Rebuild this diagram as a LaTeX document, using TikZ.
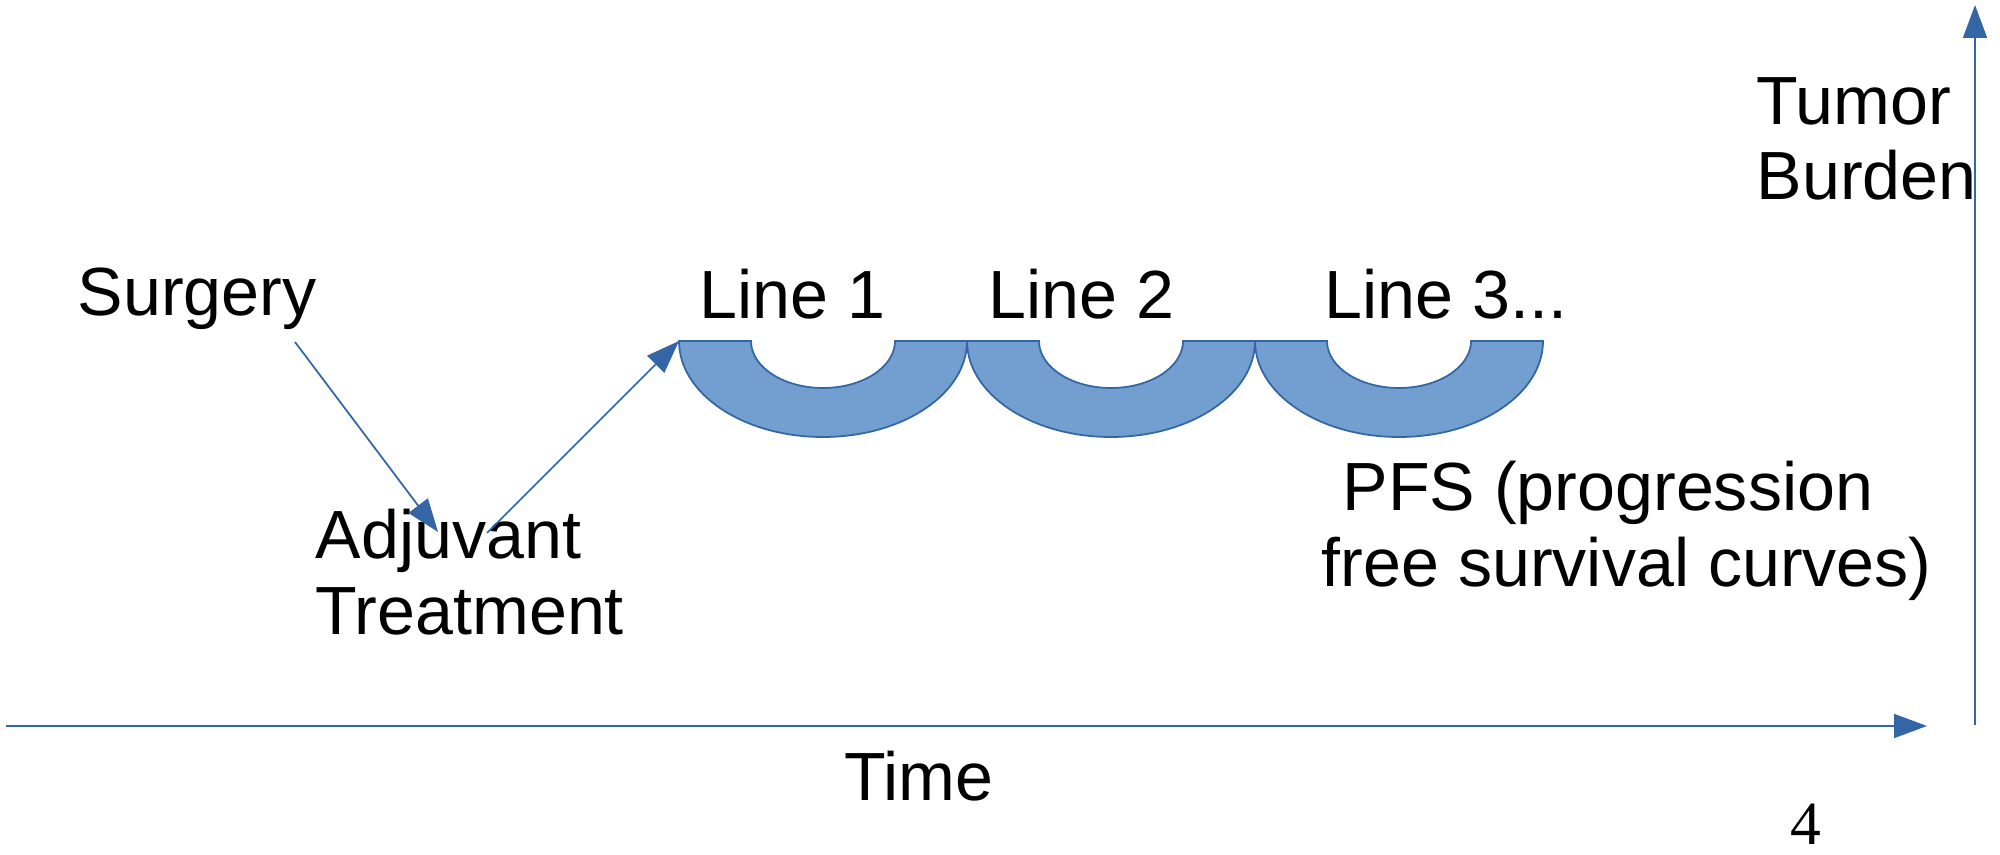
\documentclass[tikz,border=0pt]{standalone}
\usepackage{fontspec}
\setmainfont{Liberation Sans}
\newfontfamily\pagefont{Liberation Serif}
\usetikzlibrary{arrows.meta, positioning}
\definecolor{myblue}{RGB}{52,101,164}
\definecolor{ringfill}{RGB}{114,159,207}
\tikzset{
  lbl/.style={inner sep=0pt, font=\fontsize{19.4}{21.5}\selectfont, align=left},
  ring/.style={draw=myblue, fill=ringfill, line width=0.5pt},
  arrow/.style={-{Triangle[length=3.3mm, width=2.4mm]}, color=myblue, line width=0.5pt}
}

\begin{document}
\begin{tikzpicture}
  \useasboundingbox (0,0) rectangle (20,8.54);

  % --- axes ---
  \coordinate (t0) at (0.06,1.28);
  \coordinate (t1) at (19.27,1.28);
  \coordinate (b0) at (19.75,1.29);
  \coordinate (b1) at (19.75,8.49);
  \draw[arrow] (t0) -- (t1);
  \draw[arrow] (b0) -- (b1);
  \node[lbl, anchor=base west] (time) at (8.44,0.54) {Time};
  \node[lbl, anchor=base west] (tb) at (17.56,6.54) {Tumor\\Burden};

  % --- treatment lines (half rings) ---
  \foreach \cx [count=\i] in {8.23,11.11,13.99} {
    \draw[ring] (\cx-1.44,5.13) arc[start angle=180, end angle=360, x radius=1.44, y radius=0.96]
      -- (\cx+0.72,5.13) arc[start angle=0, end angle=-180, x radius=0.72, y radius=0.47] -- cycle;
    \coordinate (r\i) at (\cx-1.44,5.13);
  }
  \node[lbl, anchor=base west] (l1) at (6.99,5.35) {Line 1};
  \node[lbl, anchor=base west] (l2) at (9.88,5.35) {Line 2};
  \node[lbl, anchor=base west] (l3) at (13.24,5.35) {Line 3...};
  \node[lbl, anchor=base west] (pfs) at (13.21,2.68) {\hspace*{0.21cm}PFS (progression\\free survival curves)};

  % --- before line 1 ---
  \node[lbl, anchor=base west] (sg) at (0.77,5.38) {Surgery};
  \node[lbl, anchor=base west] (adj) at (3.15,2.20) {Adjuvant\\Treatment};
  \coordinate (sgOut) at (2.95,5.12);
  \coordinate (adjIn) at (4.38,3.22);
  \coordinate (adjOut) at (4.87,3.21);
  \draw[arrow] (sgOut) -- (adjIn);
  \draw[arrow] (adjOut) -- (r1);

  % page number
  \node[inner sep=0pt, anchor=base west, font=\pagefont\fontsize{17.5}{20}\selectfont] (pg) at (17.90,0.10) {4};
\end{tikzpicture}
\end{document}
